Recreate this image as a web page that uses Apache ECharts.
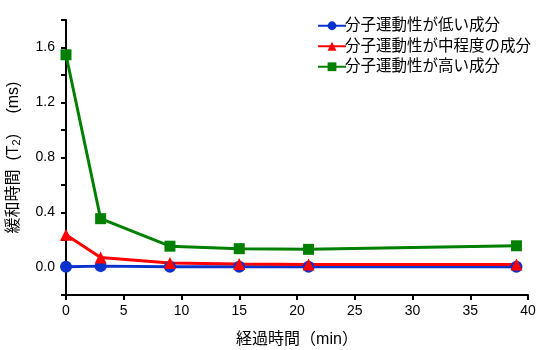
<!DOCTYPE html>
<html>
<head>
<meta charset="utf-8">
<script src="https://cdn.jsdelivr.net/npm/echarts@6/dist/echarts.min.js"></script>
<style>
  html, body { margin: 0; padding: 0; background: #fff; }
  #chart { width: 540px; height: 350px; }
</style>
</head>
<body>
<div id="chart"></div>
<script>
// 経過時間 (min)
const elapsed = [0, 3, 9, 15, 21, 39]
const seriesNames = ['分子運動性が低い成分', '分子運動性が中程度の成分', '分子運動性が高い成分']
// T2 (ms)
const lowMobility = [0.005, 0.01, 0.006, 0.006, 0.006, 0.006]
const midMobility = [0.238, 0.073, 0.032, 0.025, 0.022, 0.022]
const highMobility = [1.547, 0.355, 0.155, 0.137, 0.132, 0.158]

const font = '"Liberation Sans", Arial, "Noto Sans CJK JP", sans-serif'

const pair = (ys) => elapsed.map((x, i) => [x, ys[i]])

const myChart = echarts.init(document.getElementById('chart'))

const option = {
  animation: false,
  textStyle: { fontFamily: font },
  grid: { left: 66, right: 12, top: 20, bottom: 55, outerBoundsMode: 'none', containLabel: false },
  legend: {
    orient: 'vertical',
    left: 312,
    top: 13,
    itemWidth: 28,
    itemHeight: 11,
    itemGap: 5,
    data: seriesNames,
    textStyle: { fontSize: 15.5, color: '#000', fontFamily: font, padding: [0, 0, 0, -6] },
  },
  xAxis: {
    type: 'value',
    min: 0,
    max: 40,
    interval: 5,
    name: '経過時間（min）',
    nameLocation: 'middle',
    nameGap: 37,
    nameTextStyle: { fontSize: 16, color: '#000' },
    axisLine: { onZero: false, lineStyle: { color: '#000', width: 2 } },
    axisTick: { length: 5, lineStyle: { color: '#000', width: 2 } },
    axisLabel: { fontSize: 14, color: '#000', margin: 9 },
    splitLine: { show: false },
  },
  yAxis: {
    type: 'value',
    min: -0.2,
    max: 1.8,
    interval: 0.2,
    name: '{a|緩和時間  (T}{s|2}{a|)　 (ms)}',
    nameLocation: 'middle',
    nameRotate: 90,
    nameGap: 44,
    nameTextStyle: {
      rich: {
        a: { fontSize: 16, color: '#000', fontFamily: font },
        s: { fontSize: 11, color: '#000', fontFamily: font, verticalAlign: 'bottom', padding: [6, 0, 0, 0] },
      },
    },
    axisLine: { onZero: false, lineStyle: { color: '#000', width: 2 } },
    axisTick: { length: 5, lineStyle: { color: '#000', width: 2 } },
    axisLabel: {
      fontSize: 14,
      color: '#000',
      margin: 11,
      formatter: (v) => {
        const k = Math.round(v * 10)
        return k >= 0 && k < 18 && k % 4 === 0 ? v.toFixed(1) : ''
      },
    },
    splitLine: { show: false },
  },
  series: [
    {
      name: seriesNames[0],
      type: 'line',
      data: pair(lowMobility),
      symbol: 'circle',
      symbolSize: 12,
      color: '#0b33cc',
      lineStyle: { width: 3 },
    },
    {
      name: seriesNames[1],
      type: 'line',
      data: pair(midMobility),
      symbol: 'triangle',
      symbolSize: 12,
      color: '#ff0000',
      lineStyle: { width: 3 },
    },
    {
      name: seriesNames[2],
      type: 'line',
      data: pair(highMobility),
      symbol: 'rect',
      symbolSize: 11,
      color: '#008000',
      lineStyle: { width: 3 },
    },
  ],
}

myChart.setOption(option)
</script>
</body>
</html>
